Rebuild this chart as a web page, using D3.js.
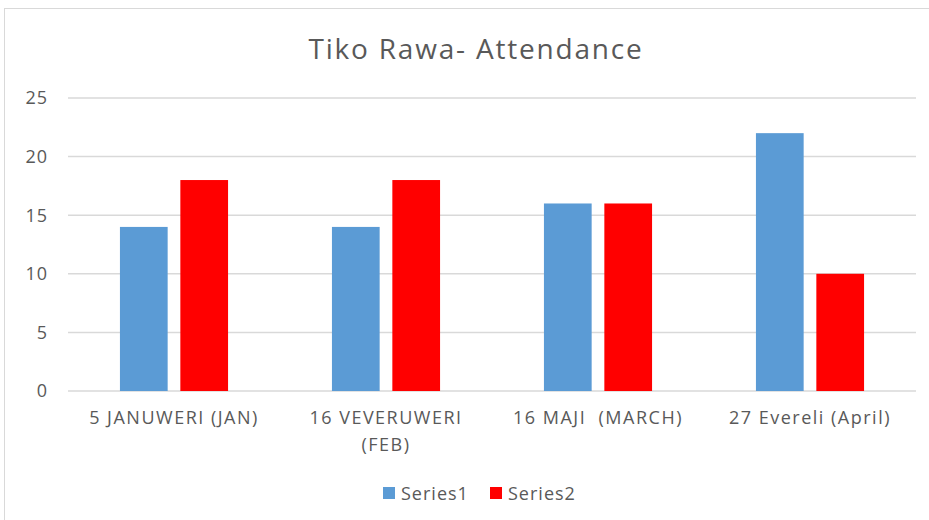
<!DOCTYPE html>
<html>
<head>
<meta charset="utf-8">
<script src="https://cdn.jsdelivr.net/npm/d3@7"></script>
<style>
  body { margin: 0; background: #fff; }
  svg { display: block; font-family: "Open Sans", "Liberation Sans", sans-serif; }
</style>
</head>
<body>
<svg id="chart" width="929" height="520"></svg>
<script>
// data
var categories = ["5 JANUWERI (JAN)", "16 VEVERUWERI (FEB)", "16 MAJI  (MARCH)", "27 Evereli (April)"];
var seriesNames = ["Series1", "Series2"];
var series1 = [14, 14, 16, 22];
var series2 = [18, 18, 16, 10];
var yTicks = [0, 5, 10, 15, 20, 25];
var colours = ["#5B9BD5", "#FF0000"];

var svg = d3.select("#chart");

// outer chart border
svg.append("rect")
    .attr("x", 4.5).attr("y", 8.5)
    .attr("width", 940).attr("height", 530)
    .attr("fill", "none")
    .attr("stroke", "#d9d9d9");

var plotLeft = 68, plotRight = 916, plotTop = 98, plotBottom = 391;

var x = d3.scaleBand()
    .domain(categories)
    .range([plotLeft, plotRight])
    .paddingInner(0.49)
    .paddingOuter(0.245);

var xs = d3.scaleBand()
    .domain(seriesNames)
    .range([0, x.bandwidth()])
    .paddingInner(0.21);

var y = d3.scaleLinear().domain([0, 25]).range([plotBottom, plotTop]);

// title
svg.append("text")
    .attr("x", 476).attr("y", 59)
    .attr("text-anchor", "middle")
    .attr("font-size", 28)
    .attr("letter-spacing", 1.8)
    .attr("fill", "#595959")
    .text("Tiko Rawa- Attendance");

// gridlines
svg.append("g").selectAll("line")
    .data(yTicks)
    .enter().append("line")
    .attr("x1", plotLeft).attr("x2", plotRight)
    .attr("y1", function(d) { return y(d); })
    .attr("y2", function(d) { return y(d); })
    .attr("stroke", "#d9d9d9")
    .attr("stroke-width", 1.5);

// y labels
svg.append("g").selectAll("text")
    .data(yTicks)
    .enter().append("text")
    .attr("x", 48)
    .attr("y", function(d) { return y(d); })
    .attr("dy", "0.36em")
    .attr("text-anchor", "end")
    .attr("font-size", 18)
    .attr("letter-spacing", 1)
    .attr("fill", "#595959")
    .text(function(d) { return d; });

// bars
var rows = categories.map(function(c, i) {
    return { cat: c, vals: [series1[i], series2[i]] };
});

var groups = svg.append("g").selectAll("g")
    .data(rows)
    .enter().append("g")
    .attr("transform", function(d) { return "translate(" + x(d.cat) + ",0)"; });

groups.selectAll("rect")
    .data(function(d) { return d.vals.map(function(v, j) { return { name: seriesNames[j], v: v, c: colours[j] }; }); })
    .enter().append("rect")
    .attr("x", function(d) { return xs(d.name); })
    .attr("y", function(d) { return y(d.v); })
    .attr("width", xs.bandwidth())
    .attr("height", function(d) { return y(0) - y(d.v); })
    .attr("fill", function(d) { return d.c; });

// x labels (wrap the long one like the original)
var xlab = svg.append("g").selectAll("text")
    .data(categories)
    .enter().append("text")
    .attr("x", function(d) { return x(d) + x.bandwidth() / 2; })
    .attr("y", 424)
    .attr("text-anchor", "middle")
    .attr("font-size", 18)
    .attr("letter-spacing", 1.5)
    .attr("xml:space", "preserve")
    .style("white-space", "pre")
    .attr("fill", "#595959");

xlab.each(function(d) {
    var t = d3.select(this);
    if (d === "16 VEVERUWERI (FEB)") {
        t.append("tspan").attr("x", x(d) + x.bandwidth() / 2).text("16 VEVERUWERI");
        t.append("tspan").attr("x", x(d) + x.bandwidth() / 2).attr("dy", 27).text("(FEB)");
    } else {
        t.text(d);
    }
});

// legend
var legend = svg.append("g");
var legX = [383, 490];
seriesNames.forEach(function(n, i) {
    legend.append("rect")
        .attr("x", legX[i]).attr("y", 487)
        .attr("width", 12).attr("height", 12)
        .attr("fill", colours[i]);
    legend.append("text")
        .attr("x", legX[i] + 18).attr("y", 500)
        .attr("font-size", 18)
        .attr("letter-spacing", 1)
        .attr("fill", "#595959")
        .text(n);
});
</script>
</body>
</html>
